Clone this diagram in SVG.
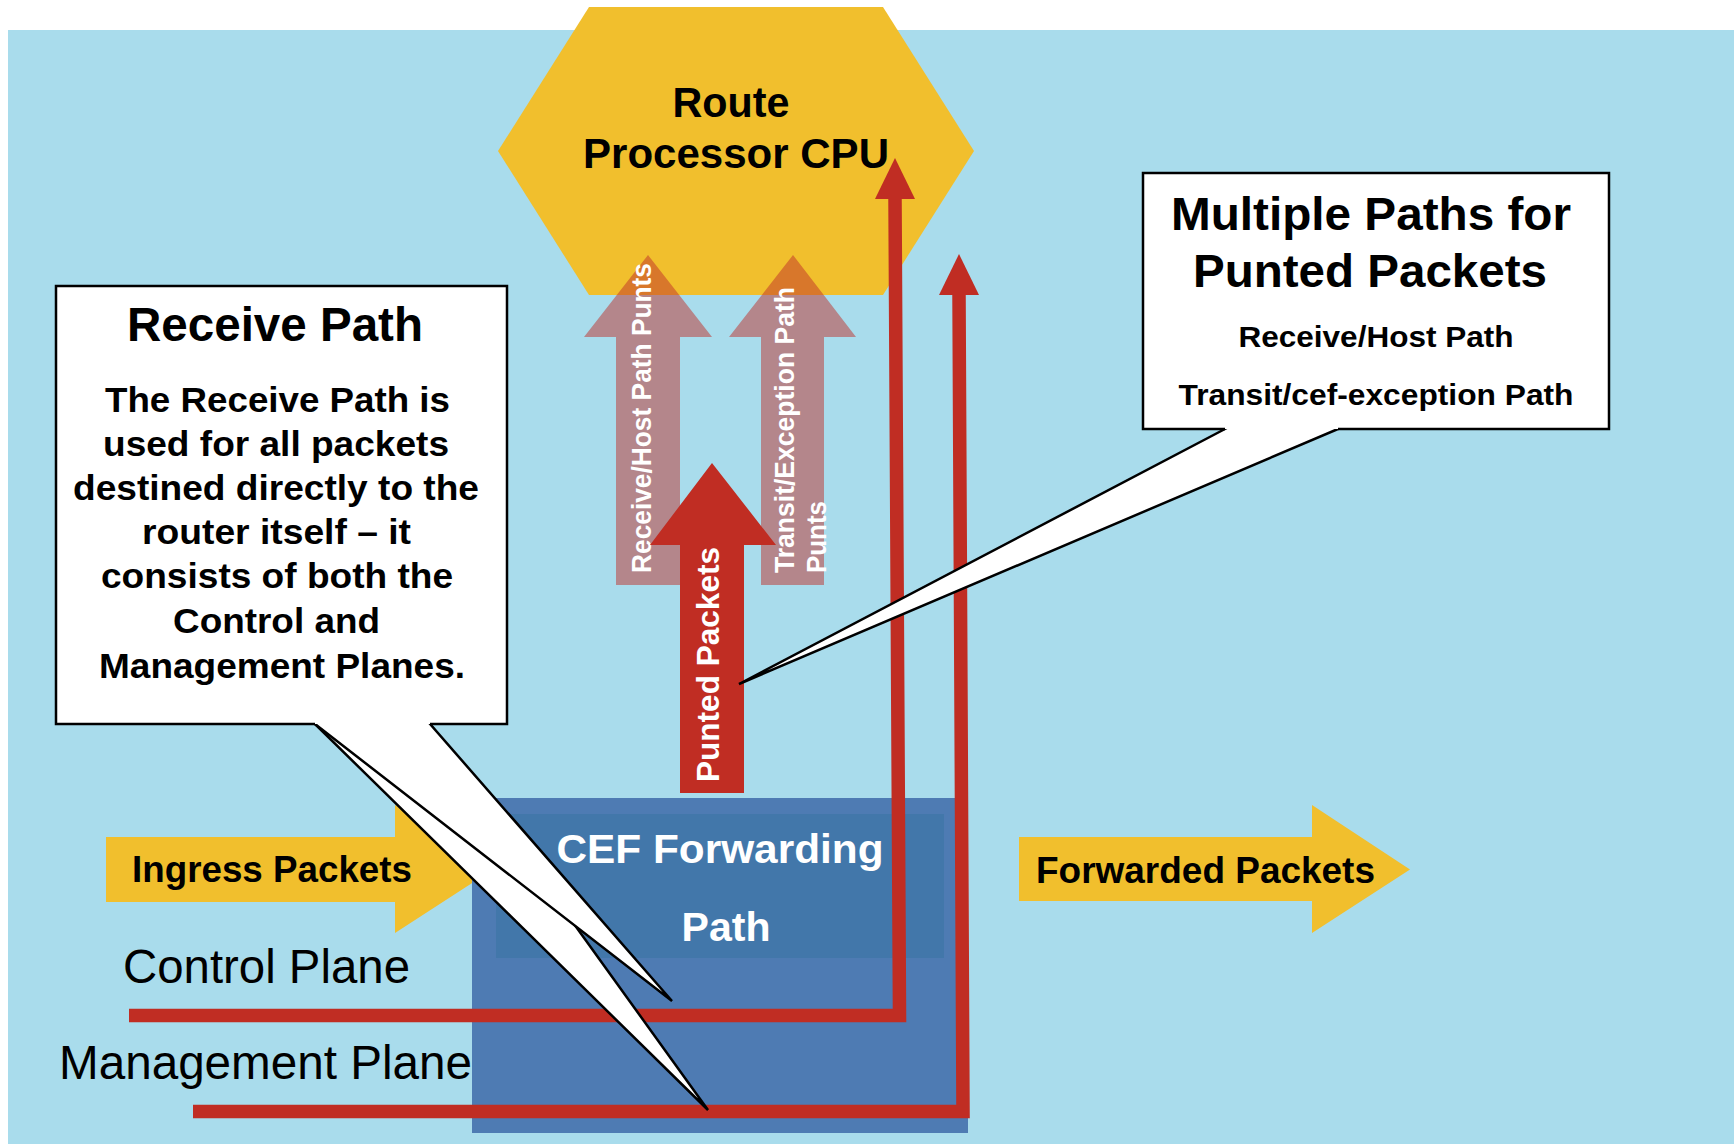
<svg xmlns="http://www.w3.org/2000/svg" width="1734" height="1144" viewBox="0 0 1734 1144">
  <style>
    .b { font-family: "Liberation Sans", Arial, sans-serif; font-weight: bold; }
    .r { font-family: "Liberation Sans", Arial, sans-serif; }
    .dark { fill: #000000; }
    .light { fill: #ffffff; }
    .yellow { fill: #F1BF2D; }
    .punt { fill: #C0302A; opacity: 0.5; }
    .red { fill: #C02D23; }
    .redline { fill: none; stroke: #C02D23; stroke-width: 13.5; stroke-linejoin: miter; }
    .wedge { fill: #ffffff; stroke: #000000; stroke-width: 2.5; stroke-linejoin: miter; }
    .frame { fill: none; stroke: #000000; stroke-width: 2.5; }
  </style>

  <!-- canvas -->
  <rect x="0" y="0" width="1734" height="1144" fill="#ffffff"/>
  <rect x="8" y="30" width="1726" height="1114" fill="#A9DCEC"/>

  <!-- route processor -->
  <g id="route-processor">
    <polygon class="yellow" points="589,7 883,7 974,151 883,295 589,295 498,151"/>
    <text class="b dark" x="731" y="117" font-size="42" text-anchor="middle" textLength="117" lengthAdjust="spacingAndGlyphs">Route</text>
    <text class="b dark" x="736" y="168" font-size="42" text-anchor="middle" textLength="306" lengthAdjust="spacingAndGlyphs">Processor CPU</text>
  </g>

  <!-- punt paths into the CPU -->
  <g id="receive-host-punts">
    <polygon class="punt" points="616,585 616,337 584,337 648,255 712,337 680,337 680,585"/>
    <text class="b light" transform="translate(651,573) rotate(-90)" font-size="28" textLength="310" lengthAdjust="spacingAndGlyphs">Receive/Host Path Punts</text>
  </g>
  <g id="transit-exception-punts">
    <polygon class="punt" points="761,585 761,337 729,337 793,255 856,337 824,337 824,585"/>
    <text class="b light" transform="translate(794,573) rotate(-90)" font-size="28" textLength="286" lengthAdjust="spacingAndGlyphs">Transit/Exception Path</text>
    <text class="b light" transform="translate(826,573) rotate(-90)" font-size="28" textLength="72" lengthAdjust="spacingAndGlyphs">Punts</text>
  </g>
  <g id="punted-packets">
    <polygon class="red" points="680,793 680,545 650,545 712,463 776,545 744,545 744,793"/>
    <text class="b light" transform="translate(719,782) rotate(-90)" font-size="32" textLength="235" lengthAdjust="spacingAndGlyphs">Punted Packets</text>
  </g>

  <!-- traffic in and out -->
  <g id="ingress-packets">
    <polygon class="yellow" points="106,837 395,837 395,805 493,869.5 395,933 395,902 106,902"/>
    <text class="b dark" x="132" y="882" font-size="37" textLength="280" lengthAdjust="spacingAndGlyphs">Ingress Packets</text>
  </g>
  <g id="forwarded-packets">
    <polygon class="yellow" points="1019,837 1312,837 1312,805 1410,869.5 1312,933 1312,901 1019,901"/>
    <text class="b dark" x="1036" y="883" font-size="37" textLength="339" lengthAdjust="spacingAndGlyphs">Forwarded Packets</text>
  </g>

  <!-- forwarding engine -->
  <g id="cef-forwarding-path">
    <rect x="472" y="798" width="496" height="335" fill="#4E7BB3"/>
    <rect x="496" y="814" width="448" height="144" fill="#4277AA"/>
    <text class="b light" x="720" y="863" font-size="40" text-anchor="middle" textLength="327" lengthAdjust="spacingAndGlyphs">CEF Forwarding</text>
    <text class="b light" x="726" y="941" font-size="40" text-anchor="middle" textLength="89" lengthAdjust="spacingAndGlyphs">Path</text>
  </g>

  <!-- plane paths up to the CPU -->
  <g id="connectors">
    <polyline class="redline" points="129,1015.5 899.5,1015.5 895,197"/>
    <polygon class="red" points="895,158 915,199 875,199"/>
    <polyline class="redline" points="193,1111.5 963,1111.5 959,293"/>
    <polygon class="red" points="959,254 979,295 939,295"/>
  </g>

  <g id="plane-labels">
    <text class="r dark" x="123" y="983" font-size="47.5" textLength="287" lengthAdjust="spacingAndGlyphs">Control Plane</text>
    <text class="r dark" x="59" y="1079" font-size="47.5" textLength="413" lengthAdjust="spacingAndGlyphs">Management Plane</text>
  </g>

  <!-- receive path callout -->
  <g id="receive-path-callout">
    <polygon class="wedge" points="304.8,714 708,1110 422.8,714"/>
    <polygon class="wedge" points="302.1,714 672,1001 421.3,714"/>
    <rect x="56" y="286" width="451" height="438" fill="#ffffff"/>
    <path class="frame" d="M315,724 H56 V286 H507 V724 H430"/>
    <text class="b dark" x="275" y="341" font-size="47.5" text-anchor="middle" textLength="296" lengthAdjust="spacingAndGlyphs">Receive Path</text>
    <g class="b dark" font-size="35" text-anchor="middle" lengthAdjust="spacingAndGlyphs">
      <text x="277.5" y="412" textLength="345" lengthAdjust="spacingAndGlyphs">The Receive Path is</text>
      <text x="276" y="456" textLength="346" lengthAdjust="spacingAndGlyphs">used for all packets</text>
      <text x="276" y="500" textLength="406" lengthAdjust="spacingAndGlyphs">destined directly to the</text>
      <text x="276.5" y="544" textLength="269" lengthAdjust="spacingAndGlyphs">router itself – it</text>
      <text x="277" y="588" textLength="352" lengthAdjust="spacingAndGlyphs">consists of both the</text>
      <text x="276.5" y="633" textLength="207" lengthAdjust="spacingAndGlyphs">Control and</text>
      <text x="282" y="678" textLength="366" lengthAdjust="spacingAndGlyphs">Management Planes.</text>
    </g>
  </g>

  <!-- punted packets callout -->
  <g id="multiple-paths-callout">
    <polygon class="wedge" points="1244,419 739,684 1361.5,419"/>
    <rect x="1143" y="173" width="466" height="256" fill="#ffffff"/>
    <path class="frame" d="M1225,429 H1143 V173 H1609 V429 H1338"/>
    <text class="b dark" x="1371" y="230" font-size="47" text-anchor="middle" textLength="400" lengthAdjust="spacingAndGlyphs">Multiple Paths for</text>
    <text class="b dark" x="1370" y="287" font-size="47" text-anchor="middle" textLength="354" lengthAdjust="spacingAndGlyphs">Punted Packets</text>
    <text class="b dark" x="1376" y="347" font-size="30" text-anchor="middle" textLength="275" lengthAdjust="spacingAndGlyphs">Receive/Host Path</text>
    <text class="b dark" x="1376" y="405" font-size="30" text-anchor="middle" textLength="395" lengthAdjust="spacingAndGlyphs">Transit/cef-exception Path</text>
  </g>
</svg>
